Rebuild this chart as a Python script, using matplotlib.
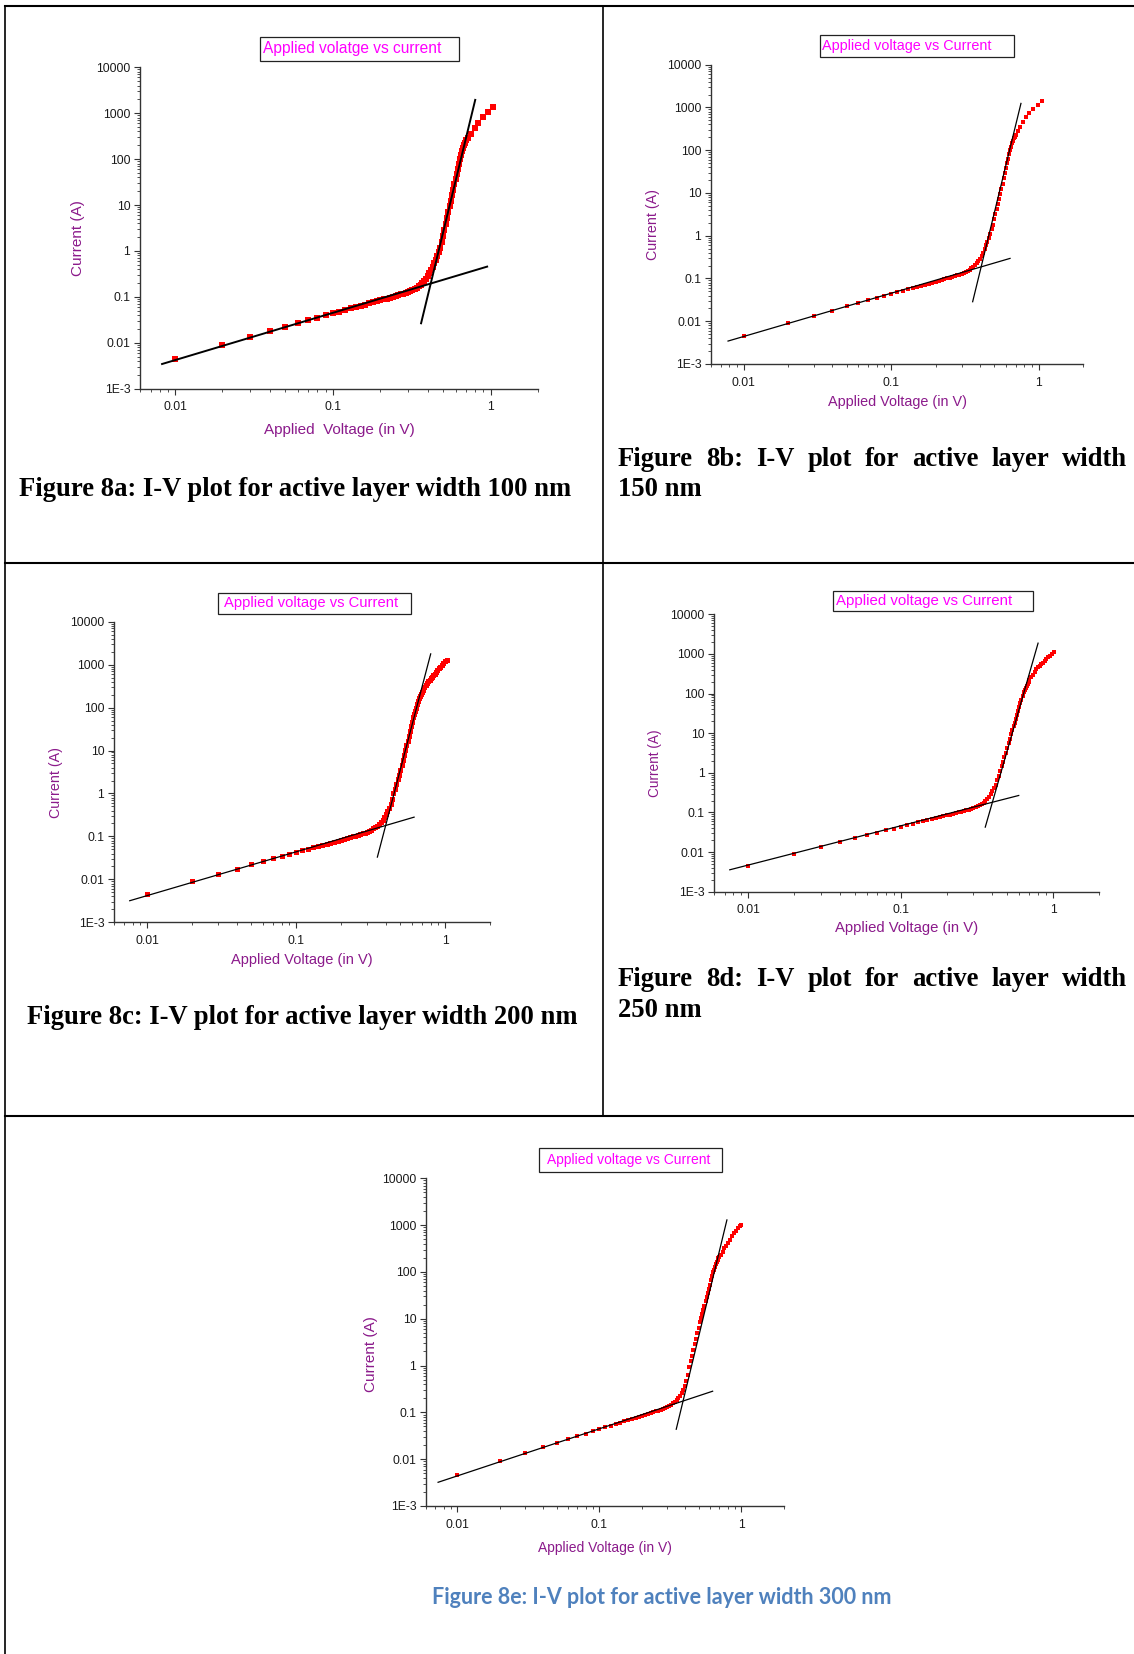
import numpy as np
import matplotlib.pyplot as plt
from matplotlib.patches import Rectangle
from matplotlib.lines import Line2D
from matplotlib.ticker import LogLocator, NullFormatter

plt.rcParams['font.family'] = ['Liberation Sans', 'DejaVu Sans']

W, H = 1134, 1654

# ---- data ----
v_dense = [0.01, 0.02, 0.03, 0.04, 0.05, 0.06, 0.07, 0.08, 0.09, 0.10,
           0.11, 0.12, 0.13, 0.14, 0.15, 0.16, 0.17, 0.18, 0.19, 0.20,
           0.21, 0.22, 0.23, 0.24, 0.25, 0.26, 0.27, 0.28, 0.29, 0.30,
           0.31, 0.32, 0.33, 0.34, 0.35, 0.36, 0.37, 0.38, 0.39, 0.40,
           0.41, 0.42, 0.43, 0.44, 0.45, 0.46, 0.47, 0.48, 0.49, 0.50,
           0.51, 0.52, 0.53, 0.54, 0.55, 0.56, 0.57, 0.58, 0.59, 0.60,
           0.61, 0.62, 0.63, 0.64, 0.65, 0.66, 0.67, 0.68, 0.69, 0.70]

# ohmic part, 0.01 - 0.30 V, same in all five plots
i_low = [0.0045, 0.0090, 0.0134, 0.0178, 0.0222, 0.0265, 0.0308, 0.0351, 0.0393, 0.0435,
         0.0477, 0.0518, 0.0559, 0.0600, 0.0640, 0.0680, 0.0720, 0.0760, 0.0800, 0.0840,
         0.0880, 0.0920, 0.0961, 0.1002, 0.1044, 0.1087, 0.1131, 0.1177, 0.1225, 0.1276]

# 0.31 - 0.70 V
i_a_knee = [0.133, 0.141, 0.150, 0.159, 0.170, 0.182, 0.200, 0.219, 0.245, 0.279,
            0.324, 0.380, 0.452, 0.537, 0.646, 0.776, 0.933, 1.17, 1.55, 2.09,
            2.82, 3.80, 5.13, 6.92, 9.33, 12.3, 16.2, 21.4, 28.2, 37.2,
            47.9, 61.7, 79.4, 100, 123, 148, 174, 200, 229, 257]
i_b_knee = [0.134, 0.142, 0.151, 0.161, 0.173, 0.187, 0.205, 0.227, 0.255, 0.292,
            0.340, 0.405, 0.490, 0.600, 0.730, 0.890, 1.10, 1.40, 1.82, 2.40,
            3.16, 4.17, 5.50, 7.20, 9.50, 12.6, 16.6, 21.9, 28.8, 38.0,
            49.0, 63.1, 81.3, 100, 120, 145, 166, 190, 209, 229]
i_c_knee = [0.135, 0.143, 0.153, 0.164, 0.177, 0.194, 0.215, 0.242, 0.278, 0.325,
            0.385, 0.460, 0.570, 0.740, 1.00, 1.29, 1.66, 2.14, 2.75, 3.55,
            4.60, 6.00, 7.80, 10.2, 13.2, 17.0, 21.9, 28.2, 36.3, 46.8,
            58.9, 72.4, 85.1, 97.7, 118, 140, 165, 185, 205, 228]
i_d_knee = [0.134, 0.142, 0.152, 0.163, 0.177, 0.195, 0.218, 0.248, 0.288, 0.340,
            0.410, 0.500, 0.640, 0.850, 1.11, 1.45, 1.91, 2.51, 3.24, 4.27,
            5.50, 7.24, 9.55, 12.0, 14.8, 18.6, 23.4, 28.8, 36.3, 45.7,
            57.5, 70.8, 89.1, 107, 123, 141, 158, 178, 200, 224]
i_e_knee = [0.136, 0.145, 0.155, 0.167, 0.182, 0.201, 0.226, 0.259, 0.300, 0.360,
            0.460, 0.630, 0.950, 1.23, 1.62, 2.14, 2.82, 3.72, 4.90, 6.46,
            8.50, 10.2, 12.6, 15.5, 19.1, 23.4, 28.8, 35.5, 43.7, 53.7,
            66.1, 81.3, 97.7, 112, 126, 145, 166, 182, 195, 208]

# high-current tails
v_a_tail = [0.718, 0.754, 0.792, 0.839, 0.894, 0.962, 1.034]
i_a_tail = [285, 355, 470, 605, 815, 1085, 1350]
v_b_tail = [0.720, 0.747, 0.780, 0.820, 0.865, 0.920, 0.985, 1.053]
i_b_tail = [280, 354, 464, 585, 725, 899, 1136, 1409]
v_c_tail = [0.712, 0.725, 0.740, 0.755, 0.770, 0.786, 0.802, 0.818, 0.835, 0.852,
            0.870, 0.888, 0.906, 0.925, 0.950, 0.975, 1.000, 1.026]
i_c_tail = [262, 298, 335, 370, 405, 442, 480, 520, 565, 609,
            680, 750, 825, 903, 995, 1090, 1190, 1290]
v_d_tail = [0.720, 0.740, 0.757, 0.777, 0.795, 0.815, 0.837, 0.860, 0.882, 0.905,
            0.927, 0.950, 0.980, 1.010]
i_d_tail = [260, 300, 355, 413, 460, 510, 558, 606, 680, 750,
            822, 896, 990, 1087]
v_e_tail = [0.72, 0.74, 0.76, 0.78, 0.80, 0.83, 0.86, 0.89, 0.92, 0.95, 0.98, 1.00]
i_e_tail = [230, 270, 320, 365, 410, 490, 585, 670, 755, 850, 950, 1020]

# fitted straight lines (end points)
fit_a_low = ([0.00828, 0.952], [0.00345, 0.456])
fit_a_high = ([0.363, 0.80], [0.0266, 1950])
fit_b_low = ([0.00783, 0.64], [0.00344, 0.295])
fit_b_high = ([0.357, 0.759], [0.0286, 1243])
fit_c_low = ([0.00765, 0.619], [0.00318, 0.281])
fit_c_high = ([0.351, 0.80], [0.033, 1780])
fit_d_low = ([0.00758, 0.595], [0.00357, 0.268])
fit_d_high = ([0.359, 0.797], [0.0426, 1870])
fit_e_low = ([0.0073, 0.628], [0.00321, 0.283])
fit_e_high = ([0.348, 0.792], [0.0436, 1290])

x_ticks = [0.01, 0.1, 1]
x_tick_labels = ['0.01', '0.1', '1']
y_ticks = [1e-3, 1e-2, 1e-1, 1, 10, 100, 1000, 10000]
y_tick_labels = ['1E-3', '0.01', '0.1', '1', '10', '100', '1000', '10000']
x_range = (0.006, 2.0)
y_range = (1e-3, 1e4)

captions = ["Figure 8a: I-V plot for active layer width 100 nm",
            "Figure 8b: I-V plot for active layer width",
            "150 nm",
            "Figure 8c: I-V plot for active layer width 200 nm",
            "Figure 8d: I-V plot for active layer width",
            "250 nm",
            "Figure 8e: I-V plot for active layer width 300 nm"]

PURPLE = '#8B1A8B'
MAGENTA = '#FF00FF'

fig = plt.figure(figsize=(W / 100, H / 100), dpi=100)


def fy(y):
    return 1 - y / H


def rect(l, t, r, b):
    return [l / W, 1 - b / H, (r - l) / W, (b - t) / H]


def iv_panel(pos, knee, v_tail, i_tail, fit_low, fit_high, ms, lw,
             legend, leg_box, leg_x, leg_fs, xlab, xlab_pos, ylab_pos, lab_fs, ylab_fs):
    ax = fig.add_axes(rect(*pos))
    v = v_dense + v_tail
    cur = i_low + knee + i_tail
    ax.plot(v, cur, 's', color='#FF0000', ms=ms, mew=0, zorder=2)
    ax.plot(fit_low[0], fit_low[1], color='black', lw=lw, zorder=3)
    ax.plot(fit_high[0], fit_high[1], color='black', lw=lw, zorder=3)
    ax.set_xscale('log')
    ax.set_yscale('log')
    ax.set_xlim(x_range)
    ax.set_ylim(y_range)
    ax.set_xticks(x_ticks, labels=x_tick_labels)
    ax.set_yticks(y_ticks, labels=y_tick_labels)
    for axis in (ax.xaxis, ax.yaxis):
        axis.set_minor_locator(LogLocator(base=10, subs=np.arange(2, 10), numticks=30))
        axis.set_minor_formatter(NullFormatter())
    ax.tick_params(which='major', direction='out', length=4, width=0.8,
                   color='#333333', labelcolor='#1a1a1a', labelsize=8.7)
    ax.tick_params(axis='x', which='major', pad=5)
    ax.tick_params(axis='y', which='major', pad=3)
    ax.tick_params(which='minor', direction='out', length=2, width=0.6, color='#333333')
    for s in ('top', 'right'):
        ax.spines[s].set_visible(False)
    for s in ('left', 'bottom'):
        ax.spines[s].set_linewidth(1.0)
        ax.spines[s].set_color('#333333')
    ax.patch.set_alpha(0)

    # title box
    l, t, r, b = leg_box
    fig.patches.append(Rectangle((l / W, 1 - b / H), (r - l) / W, (b - t) / H,
                                 transform=fig.transFigure, fill=False,
                                 edgecolor='#222222', lw=0.9))
    fig.text(leg_x / W, fy((t + b) / 2), legend, color=MAGENTA, fontsize=leg_fs,
             ha='left', va='center')

    fig.text(xlab_pos[0] / W, fy(xlab_pos[1]), xlab, color=PURPLE,
             fontsize=lab_fs, ha='center', va='center')
    fig.text(ylab_pos[0] / W, fy(ylab_pos[1]), 'Current (A)', color=PURPLE,
             fontsize=ylab_fs, ha='center', va='center', rotation=90)
    return ax


iv_panel((140, 67.3, 538, 388.7), i_a_knee, v_a_tail, i_a_tail, fit_a_low, fit_a_high,
         4.0, 1.4, 'Applied volatge vs current', (260.3, 36.7, 459.3, 61), 263, 11.2,
         'Applied  Voltage (in V)', (339, 430), (78, 238), 11, 11)
iv_panel((711, 64.7, 1083, 364), i_b_knee, v_b_tail, i_b_tail, fit_b_low, fit_b_high,
         3.5, 0.9, 'Applied voltage vs Current', (820, 34.7, 1013.7, 57.3), 822, 10.4,
         'Applied Voltage (in V)', (897, 401.7), (653, 224.7), 10.4, 10.3)
iv_panel((114, 621.7, 490, 922.3), i_c_knee, v_c_tail, i_c_tail, fit_c_low, fit_c_high,
         3.6, 0.9, 'Applied voltage vs Current', (217.7, 592.7, 411, 614.3), 224, 10.6,
         'Applied Voltage (in V)', (302, 960), (56, 782), 10.5, 10.3)
iv_panel((714.3, 614.3, 1099, 891.7), i_d_knee, v_d_tail, i_d_tail, fit_d_low, fit_d_high,
         3.4, 0.9, 'Applied voltage vs Current', (833.3, 590.7, 1033.3, 611), 835.7, 10.8,
         'Applied Voltage (in V)', (907, 927.7), (655, 763), 10.7, 9.8)
iv_panel((426, 1178.3, 784, 1506), i_e_knee, v_e_tail, i_e_tail, fit_e_low, fit_e_high,
         3.5, 0.9, 'Applied voltage vs Current', (538.7, 1148.3, 722.3, 1172), 547, 10,
         'Applied Voltage (in V)', (605, 1548.3), (370.7, 1353.7), 10, 11)

# ---- table grid ----
def hline(y, x0, x1, lw):
    fig.add_artist(Line2D([x0 / W, x1 / W], [fy(y), fy(y)], color='black', lw=lw))


def vline(x, y0, y1, lw):
    fig.add_artist(Line2D([x / W, x / W], [fy(y0), fy(y1)], color='black', lw=lw))


hline(6, 5, W, 1.5)
hline(563, 5, W, 1.5)
hline(1116, 5, W, 1.5)
vline(5, 6, H, 1.2)
vline(603, 6, 1116, 1.2)

# ---- captions ----
cap_kw = dict(family=['Liberation Serif', 'DejaVu Serif'], fontweight='bold', fontsize=19.2)
fig.text(19 / W, fy(489), captions[0], ha='left', va='center', **cap_kw)
fig.text(27 / W, fy(1017), captions[3], ha='left', va='center', **cap_kw)


def justified(line, x0, x1, y):
    words = line.split(' ')
    texts = [fig.text(0, fy(y), w, ha='left', va='center', **cap_kw) for w in words]
    fig.canvas.draw()
    r = fig.canvas.get_renderer()
    widths = [t.get_window_extent(r).width for t in texts]
    gap = ((x1 - x0) - sum(widths)) / (len(words) - 1)
    x = x0
    for t, wd in zip(texts, widths):
        t.set_x(x / W)
        x += wd + gap


justified(captions[1], 618, 1127, 460)
fig.text(618 / W, fy(490), captions[2], ha='left', va='center', **cap_kw)
justified(captions[4], 618, 1127, 980)
fig.text(618 / W, fy(1010.5), captions[5], ha='left', va='center', **cap_kw)

fig.text(662 / W, fy(1597), captions[6], ha='center', va='center', color='#4F81BD',
         fontsize=15.5, fontweight='bold', family=['Lato', 'DejaVu Sans'])

fig.savefig('out.png', dpi=100, facecolor='white')
